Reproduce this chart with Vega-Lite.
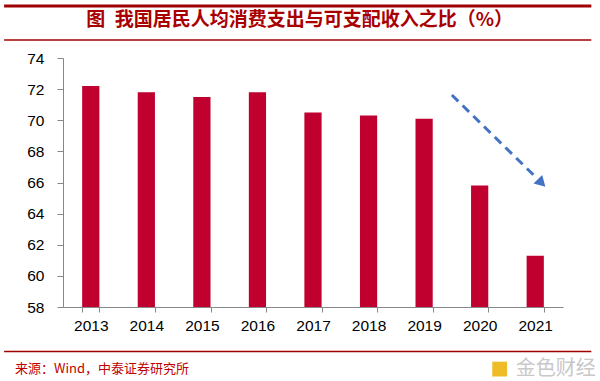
{
  "$schema": "https://vega.github.io/schema/vega-lite/v6.json",
  "width": 500,
  "height": 249,
  "autosize": "none",
  "padding": {"left": 63, "top": 58, "right": 37, "bottom": 74},
  "background": "white",
  "config": {
    "view": {"stroke": null},
    "font": "Liberation Sans",
    "axisY": {
      "title": null, "values": [58, 60, 62, 64, 66, 68, 70, 72, 74],
      "labelOverlap": false, "labelFontSize": 15.5, "labelColor": "#000000",
      "domainColor": "#888888", "tickColor": "#888888", "tickSize": 6,
      "labelPadding": 13, "grid": false, "tickCount": 9
    }
  },
  "datasets": {
    "bars": [
      {"year": "2013", "ratio": 72.2},
      {"year": "2014", "ratio": 71.8},
      {"year": "2015", "ratio": 71.5},
      {"year": "2016", "ratio": 71.8},
      {"year": "2017", "ratio": 70.5},
      {"year": "2018", "ratio": 70.3},
      {"year": "2019", "ratio": 70.1},
      {"year": "2020", "ratio": 65.8},
      {"year": "2021", "ratio": 61.3}
    ],
    "arrow": [
      {"ax": 7.0, "ay": 71.62},
      {"ax": 8.525, "ay": 66.29}
    ],
    "head": [{"ax": 8.615, "ay": 65.97}],
    "thick": [{"x1": -1.06, "x2": 9.51, "y": 77.34}],
    "thin": [
      {"x1": -1.06, "x2": 9.51, "y": 75.16},
      {"x1": -1.06, "x2": 9.51, "y": 55.14}
    ],
    "title": [{"x": 4.26, "y": 76.44, "t": "图\u2002我国居民人均消费支出与可支配收入之比（%）"}],
    "source": [{"x": -0.863, "y": 54.01, "t": "来源：Wind，中泰证券研究所"}],
    "mark": [{"x": 9.59, "y": 54.01, "t": "金色财经"}],
    "logo": [{"x": 7.86, "y": 54.01}]
  },
  "layer": [
    {
      "data": {"name": "bars"},
      "mark": {"type": "bar", "color": "#C0002F", "clip": true},
      "encoding": {
        "x": {
          "field": "year", "type": "ordinal", "sort": null,
          "scale": {"paddingInner": 0.69, "paddingOuter": 0.345},
          "axis": {
            "title": null, "labelAngle": 0, "labelFontSize": 15.5, "labelColor": "#000000",
            "domainColor": "#888888", "tickColor": "#888888", "tickSize": 5,
            "tickBand": "extent", "labelPadding": 6, "grid": false
          }
        },
        "y": {
          "field": "ratio", "type": "quantitative",
          "scale": {"domain": [58, 74], "nice": false, "zero": false},
          "axis": {"values": [58, 60, 62, 64, 66, 68, 70, 72, 74], "labelOverlap": false, "title": null}
        }
      }
    },
    {
      "data": {"name": "arrow"},
      "mark": {"type": "line", "color": "#4472C4", "strokeWidth": 3, "strokeDash": [9, 6]},
      "encoding": {
        "x": {"field": "ax", "type": "quantitative", "scale": {"domain": [0, 9], "nice": false, "zero": false}, "axis": null},
        "y": {"field": "ay", "type": "quantitative", "axis": {"values": [58, 60, 62, 64, 66, 68, 70, 72, 74], "labelOverlap": false, "title": null}}
      }
    },
    {
      "data": {"name": "head"},
      "mark": {"type": "point", "shape": "triangle-down", "angle": 315, "filled": true, "color": "#4472C4", "size": 150, "opacity": 1},
      "encoding": {
        "x": {"field": "ax", "type": "quantitative", "scale": {"domain": [0, 9], "nice": false, "zero": false}, "axis": null},
        "y": {"field": "ay", "type": "quantitative", "axis": {"values": [58, 60, 62, 64, 66, 68, 70, 72, 74], "labelOverlap": false, "title": null}}
      }
    },
    {
      "data": {"name": "thick"},
      "mark": {"type": "rule", "color": "#A00000", "strokeWidth": 3},
      "encoding": {
        "x": {"field": "x1", "type": "quantitative", "scale": {"domain": [0, 9], "nice": false, "zero": false}, "axis": null},
        "x2": {"field": "x2"},
        "y": {"field": "y", "type": "quantitative", "axis": {"values": [58, 60, 62, 64, 66, 68, 70, 72, 74], "labelOverlap": false, "title": null}}
      }
    },
    {
      "data": {"name": "thin"},
      "mark": {"type": "rule", "color": "#A00000", "strokeWidth": 1.5},
      "encoding": {
        "x": {"field": "x1", "type": "quantitative", "scale": {"domain": [0, 9], "nice": false, "zero": false}, "axis": null},
        "x2": {"field": "x2"},
        "y": {"field": "y", "type": "quantitative", "axis": {"values": [58, 60, 62, 64, 66, 68, 70, 72, 74], "labelOverlap": false, "title": null}}
      }
    },
    {
      "data": {"name": "title"},
      "mark": {"type": "text", "font": "Noto Sans CJK SC", "fontSize": 19, "fontWeight": "bold", "color": "#A80000", "align": "center", "baseline": "middle"},
      "encoding": {
        "x": {"field": "x", "type": "quantitative", "scale": {"domain": [0, 9], "nice": false, "zero": false}, "axis": null},
        "y": {"field": "y", "type": "quantitative", "axis": {"values": [58, 60, 62, 64, 66, 68, 70, 72, 74], "labelOverlap": false, "title": null}},
        "text": {"field": "t"}
      }
    },
    {
      "data": {"name": "source"},
      "mark": {"type": "text", "font": "Noto Sans CJK SC", "fontSize": 13, "color": "#C00000", "align": "left", "baseline": "middle"},
      "encoding": {
        "x": {"field": "x", "type": "quantitative", "scale": {"domain": [0, 9], "nice": false, "zero": false}, "axis": null},
        "y": {"field": "y", "type": "quantitative", "axis": {"values": [58, 60, 62, 64, 66, 68, 70, 72, 74], "labelOverlap": false, "title": null}},
        "text": {"field": "t"}
      }
    },
    {
      "data": {"name": "logo"},
      "mark": {"type": "point", "shape": "square", "filled": true, "color": "#EBB000", "size": 220, "opacity": 0.85},
      "encoding": {
        "x": {"field": "x", "type": "quantitative", "scale": {"domain": [0, 9], "nice": false, "zero": false}, "axis": null},
        "y": {"field": "y", "type": "quantitative", "axis": {"values": [58, 60, 62, 64, 66, 68, 70, 72, 74], "labelOverlap": false, "title": null}}
      }
    },
    {
      "data": {"name": "mark"},
      "mark": {"type": "text", "font": "Noto Sans CJK SC", "fontSize": 20, "color": "#C8C8C8", "align": "right", "baseline": "middle"},
      "encoding": {
        "x": {"field": "x", "type": "quantitative", "scale": {"domain": [0, 9], "nice": false, "zero": false}, "axis": null},
        "y": {"field": "y", "type": "quantitative", "axis": {"values": [58, 60, 62, 64, 66, 68, 70, 72, 74], "labelOverlap": false, "title": null}},
        "text": {"field": "t"}
      }
    }
  ],
  "resolve": {"scale": {"x": "independent"}}
}
